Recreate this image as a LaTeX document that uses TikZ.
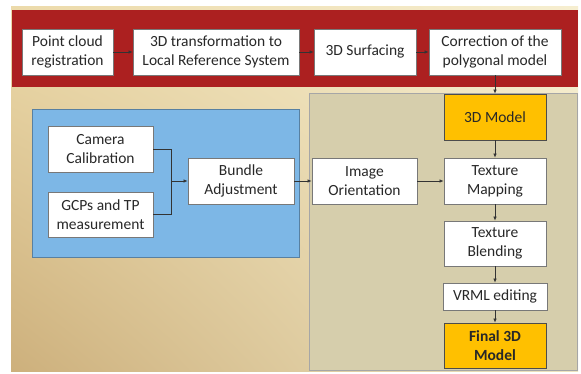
\documentclass[tikz,border=0pt]{standalone}
\usepackage{fontspec}
\setmainfont{Carlito}
\usetikzlibrary{arrows.meta,shadings}
\definecolor{bandred}{RGB}{172,32,32}
\definecolor{panelblue}{RGB}{125,183,230}
\definecolor{paneltan}{RGB}{214,206,172}
\definecolor{gold}{RGB}{255,192,0}
\definecolor{txt}{RGB}{40,40,40}
\definecolor{boxline}{RGB}{120,120,120}
\definecolor{bgA}{RGB}{236,218,170}
\definecolor{bgB}{RGB}{246,238,208}
\definecolor{bgC}{RGB}{205,176,124}
\definecolor{bgD}{RGB}{238,228,192}
\tikzset{
  stepbox/.style={draw=boxline, line width=0.8pt, fill=white, align=center,
    text=txt, font=\fontsize{15.5}{19}\selectfont, inner sep=0pt},
  goldbox/.style={stepbox, fill=gold, draw=black!70},
  conn/.style={draw=black!80, line width=0.7pt, -{Latex[length=4pt,width=3.6pt]}},
  plain/.style={draw=black!80, line width=0.7pt}
}
\begin{document}
\begin{tikzpicture}[x=1pt,y=-1pt]
\useasboundingbox (0,0) rectangle (581,374);
\fill[white] (0,0) rectangle (581,374);
% background
\shade[upper left=bgA, upper right=bgB, lower left=bgC, lower right=bgD] (11,7) rectangle (578,371);
% red band
\fill[bandred] (12,10) rectangle (578,87);
% tan panel
\filldraw[fill=paneltan, draw=black!35, line width=0.6pt] (309,93) rectangle (577,370);
% blue panel
\filldraw[fill=panelblue, draw=panelblue!70!black, line width=0.6pt] (32,109) rectangle (299,257);

% top row
\node[stepbox, minimum width=91pt, minimum height=46pt] (pcr) at (67.5,52) {Point cloud\\registration};
\node[stepbox, minimum width=166pt, minimum height=46pt] (trans) at (216,52) {3D transformation to\\Local Reference System};
\node[stepbox, minimum width=102pt, minimum height=46pt] (surf) at (365,52) {3D Surfacing};
\node[stepbox, minimum width=132pt, minimum height=46pt] (corr) at (495,52) {Correction of the\\polygonal model};

% blue panel boxes
\node[stepbox, minimum width=105pt, minimum height=46pt] (cam) at (100.5,149) {Camera\\Calibration};
\node[stepbox, minimum width=105pt, minimum height=45pt] (gcp) at (100.5,214.5) {GCPs and TP\\measurement};
\node[stepbox, minimum width=106pt, minimum height=46pt] (bundle) at (241,181) {Bundle\\Adjustment};

% right panel boxes
\node[stepbox, minimum width=105pt, minimum height=46pt] (imgor) at (364.5,181) {Image\\Orientation};
\node[goldbox, minimum width=102pt, minimum height=46pt] (model) at (495,117) {3D Model};
\node[stepbox, minimum width=102pt, minimum height=46pt] (texmap) at (495,181) {Texture\\Mapping};
\node[stepbox, minimum width=102pt, minimum height=45pt] (texbl) at (495,243.5) {Texture\\Blending};
\node[stepbox, minimum width=104pt, minimum height=27pt] (vrml) at (495,296.5) {VRML editing};
\node[goldbox, minimum width=102pt, minimum height=45pt, font=\fontsize{15.5}{19}\selectfont\bfseries] (final) at (495,345.5) {Final 3D\\Model};

% connectors
\draw[conn] (pcr) -- (trans);
\draw[conn] (trans) -- (surf);
\draw[conn] (surf) -- (corr);
\draw[conn] (corr) -- (model);
\coordinate (j) at (171,181);
\draw[plain] (cam.east) -| (j);
\draw[plain] (gcp.east) -| (j);
\draw[conn] (j) -- (bundle.west);
\draw[conn] (bundle) -- (imgor);
\draw[conn] (imgor) -- (texmap);
\draw[conn] (model) -- (texmap);
\draw[conn] (texmap) -- (texbl);
\draw[conn] (texbl) -- (vrml);
\draw[conn] (vrml) -- (final);
\end{tikzpicture}
\end{document}
